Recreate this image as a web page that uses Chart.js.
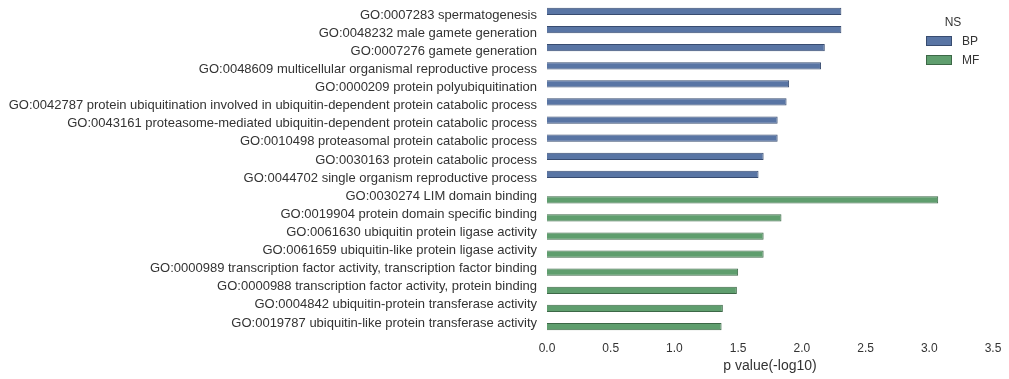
<!DOCTYPE html>
<html>
<head>
<meta charset="utf-8">
<script src="https://cdn.jsdelivr.net/npm/chart.js@4/dist/chart.umd.min.js"></script>
<style>
  html, body { margin: 0; padding: 0; background: #fff; }
  #wrap { width: 1009px; height: 379px; }
</style>
</head>
<body>
<div id="wrap"><canvas id="goChart" width="1009" height="379"></canvas></div>
<script>
////////// data //////////
const terms = [
  'GO:0007283 spermatogenesis',
  'GO:0048232 male gamete generation',
  'GO:0007276 gamete generation',
  'GO:0048609 multicellular organismal reproductive process',
  'GO:0000209 protein polyubiquitination',
  'GO:0042787 protein ubiquitination involved in ubiquitin-dependent protein catabolic process',
  'GO:0043161 proteasome-mediated ubiquitin-dependent protein catabolic process',
  'GO:0010498 proteasomal protein catabolic process',
  'GO:0030163 protein catabolic process',
  'GO:0044702 single organism reproductive process',
  'GO:0030274 LIM domain binding',
  'GO:0019904 protein domain specific binding',
  'GO:0061630 ubiquitin protein ligase activity',
  'GO:0061659 ubiquitin-like protein ligase activity',
  'GO:0000989 transcription factor activity, transcription factor binding',
  'GO:0000988 transcription factor activity, protein binding',
  'GO:0004842 ubiquitin-protein transferase activity',
  'GO:0019787 ubiquitin-like protein transferase activity'
]
const namespaces = ['BP', 'BP', 'BP', 'BP', 'BP', 'BP', 'BP', 'BP', 'BP', 'BP',
  'MF', 'MF', 'MF', 'MF', 'MF', 'MF', 'MF', 'MF']
const pvalues = [2.31, 2.31, 2.18, 2.15, 1.90, 1.88, 1.81, 1.81, 1.70, 1.66,
  3.07, 1.84, 1.70, 1.70, 1.50, 1.49, 1.38, 1.37]
const xTicks = [0, 0.5, 1.0, 1.5, 2.0, 2.5, 3.0, 3.5]

const nsColors = {
  BP: { fill: '#5975a4', edge: '#384c70' },
  MF: { fill: '#5f9e6e', edge: '#3d6847' }
}
const fontFamily = '"Liberation Sans", Arial, sans-serif'

////////// legend drawn in the upper right //////////
const nsLegend = {
  id: 'nsLegend',
  afterDraw: chart => {
    const ctx = chart.ctx
    ctx.save()
    ctx.font = '12px ' + fontFamily
    ctx.fillStyle = '#333'
    ctx.textBaseline = 'middle'
    ctx.textAlign = 'center'
    ctx.fillText('NS', 953, 23)
    ctx.textAlign = 'left'
    chart.data.datasets.forEach((ds, i) => {
      const y = 41 + i * 19
      ctx.fillStyle = ds.backgroundColor
      ctx.strokeStyle = ds.borderColor
      ctx.lineWidth = 1
      ctx.fillRect(926, y - 5, 26, 10)
      ctx.strokeRect(926.5, y - 4.5, 25, 9)
      ctx.fillStyle = '#333'
      ctx.fillText(ds.label, 962, y + 0.5)
    })
    ctx.restore()
  }
}

const datasets = ['BP', 'MF'].map(ns => ({
  label: ns,
  data: pvalues.map((v, i) => namespaces[i] === ns ? v : null),
  backgroundColor: nsColors[ns].fill,
  borderColor: nsColors[ns].edge,
  borderWidth: 1,
  categoryPercentage: 0.8,
  barPercentage: 1.0
}))

const ctx = document.getElementById('goChart').getContext('2d')
const goChart = new Chart(ctx, {
  type: 'bar',
  data: { labels: terms, datasets: datasets },
  options: {
    indexAxis: 'y',
    responsive: false,
    animation: false,
    devicePixelRatio: 1,
    layout: { padding: { top: 6, right: 16, bottom: 0, left: 0 } },
    plugins: {
      legend: { display: false },
      tooltip: { enabled: false }
    },
    scales: {
      x: {
        min: 0,
        max: 3.5,
        afterBuildTicks: scale => { scale.ticks = xTicks.map(v => ({ value: v })) },
        afterFit: scale => {
          scale.height = 47
          scale.paddingLeft = 0
          scale.paddingRight = 0
        },
        grid: { display: false, drawTicks: false },
        border: { display: false },
        ticks: {
          padding: 9,
          color: '#333',
          font: { family: fontFamily, size: 12 },
          callback: v => Number(v).toFixed(1)
        },
        title: {
          display: true,
          text: 'p value(-log10)',
          color: '#333',
          font: { family: fontFamily, size: 14 },
          padding: { top: 2, bottom: 4 }
        }
      },
      y: {
        afterFit: scale => {
          scale.width = 547
          scale.paddingTop = 0
          scale.paddingBottom = 0
        },
        grid: { display: false, drawTicks: false },
        border: { display: false },
        ticks: {
          padding: 10,
          autoSkip: false,
          color: '#333',
          font: { family: fontFamily, size: 13 }
        }
      }
    }
  },
  plugins: [nsLegend]
})
</script>
</body>
</html>
